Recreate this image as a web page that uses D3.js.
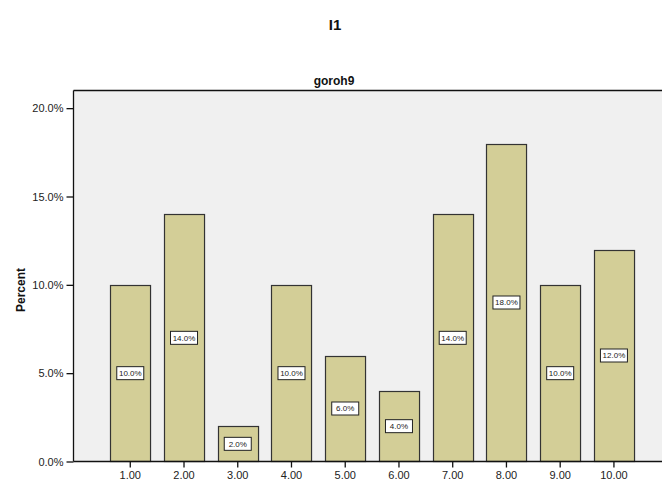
<!DOCTYPE html>
<html><head><meta charset="utf-8">
<script src="https://cdn.jsdelivr.net/npm/d3@7"></script>
<style>body{margin:0;background:#fff}svg{display:block;font-family:"Liberation Sans",Arial,sans-serif}</style>
</head><body><div id="c"></div>
<script>
const categories = ["1.00","2.00","3.00","4.00","5.00","6.00","7.00","8.00","9.00","10.00"];
const percents = [10,14,2,10,6,4,14,18,10,12];
const yTicks = [0,5,10,15,20];
const title = "I1", subtitle = "goroh9", yTitle = "Percent";

const W=662,H=481;
const svg=d3.select("#c").append("svg").attr("width",W).attr("height",H);
const pLeft=73.5, pTop=90.5, pBottom=461.5, pRight=662;
const y=d3.scaleLinear().domain([0,21]).range([pBottom,pTop]);
const x=d3.scaleBand().domain(categories).range([103.4,640.8]).paddingInner(0.255).paddingOuter(0.1275);

svg.append("rect").attr("x",pLeft).attr("y",pTop).attr("width",pRight-pLeft).attr("height",pBottom-pTop).attr("fill","#f0f0f0");

svg.append("g").selectAll("rect").data(percents).join("rect")
 .attr("x",(d,i)=>Math.round(x(categories[i]))+0.5).attr("y",d=>Math.round(y(d))+0.5)
 .attr("width",x.bandwidth()).attr("height",d=>pBottom-Math.round(y(d))-0.5)
 .attr("fill","#d3ce97").attr("stroke","#333").attr("stroke-width",1.2);

const lab=svg.append("g").selectAll("g").data(percents).join("g")
 .attr("transform",(d,i)=>`translate(${x(categories[i])+x.bandwidth()/2},${y(d/2)})`);
lab.append("rect").attr("x",-13.5).attr("y",-6.5).attr("width",27).attr("height",13).attr("fill","#fff").attr("stroke","#222").attr("stroke-width",1);
lab.append("text").attr("text-anchor","middle").attr("dy","0.35em").attr("font-size",8).attr("fill","#222").text(d=>d.toFixed(1)+"%");

svg.append("line").attr("x1",pLeft).attr("x2",pRight).attr("y1",pTop).attr("y2",pTop).attr("stroke","#111").attr("stroke-width",1.3);

const ya=svg.append("g").attr("transform",`translate(${pLeft},0)`)
 .call(d3.axisLeft(y).tickValues(yTicks).tickSize(7).tickPadding(3).tickFormat(d=>d.toFixed(1)+"%"));
ya.select(".domain").attr("d",`M0,${pTop}V${pBottom}`).attr("stroke","#111").attr("stroke-width",1.3);
ya.selectAll("text").attr("font-size",11).attr("fill","#222").attr("font-family","Liberation Sans, Arial");
ya.selectAll(".tick line").attr("stroke","#111").attr("stroke-width",1.3);

const xa=svg.append("g").attr("transform",`translate(0,${pBottom})`)
 .call(d3.axisBottom(x).tickSize(6).tickPadding(4));
xa.select(".domain").attr("d",`M${pLeft},0H${pRight}`).attr("stroke","#111").attr("stroke-width",1.3);
xa.selectAll("text").attr("font-size",11).attr("fill","#222").attr("font-family","Liberation Sans, Arial");
xa.selectAll(".tick line").attr("stroke","#111").attr("stroke-width",1.3);

svg.append("text").attr("x",335).attr("y",30).attr("text-anchor","middle").attr("font-size",15).attr("font-weight","bold").attr("fill","#111").text(title);
svg.append("text").attr("x",334).attr("y",85).attr("text-anchor","middle").attr("font-size",12).attr("font-weight","bold").attr("fill","#111").text(subtitle);
svg.append("text").attr("transform","translate(25,290) rotate(-90)").attr("text-anchor","middle").attr("font-size",12).attr("font-weight","bold").attr("fill","#111").text(yTitle);
</script></body></html>
